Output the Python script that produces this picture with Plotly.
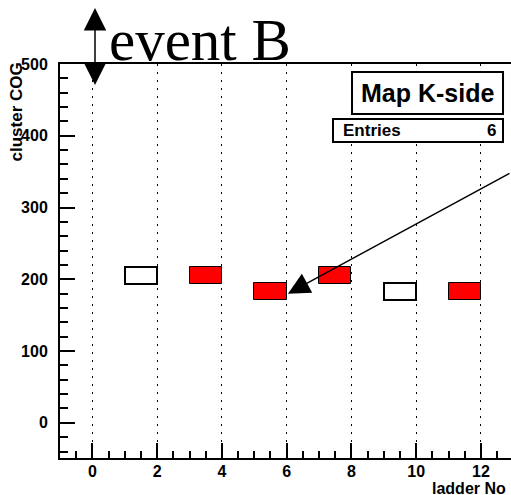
import plotly.graph_objects as go

# ---- data ----
ladder = [1.5, 3.5, 5.5, 7.5, 9.5, 11.5]          # ladder number (bin centres)
cog = [205.5, 205.5, 183.0, 205.5, 183.0, 183.0]  # cluster COG (bin centres)
filled = [False, True, True, True, False, True]   # red filled cell or open cell
bin_h = 23.0
x_ticks = [0, 2, 4, 6, 8, 10, 12]
y_ticks = [0, 100, 200, 300, 400, 500]
entries = len(ladder)

FONT = "Liberation Sans"

fig = go.Figure()
fig.add_trace(go.Bar(
    x=ladder,
    y=[bin_h] * len(ladder),
    base=[c - bin_h / 2 for c in cog],
    width=1.0,
    marker=dict(
        color=["#ff0000" if f else "rgba(255,255,255,0)" for f in filled],
        line=dict(color="black", width=[1 if f else 2 for f in filled]),
    ),
    hoverinfo="skip",
))

fig.update_layout(
    width=511, height=495, autosize=False,
    margin=dict(l=60, r=0, t=64, b=37),
    paper_bgcolor="white", plot_bgcolor="white",
    showlegend=False, bargap=0,
)

fig.update_xaxes(
    range=[-1, 12.93], tickmode="array", tickvals=x_ticks,
    ticks="inside", ticklen=15, tickwidth=1.5, tickcolor="black",
    minor=dict(dtick=0.5, tick0=0, ticks="inside", ticklen=7, tickwidth=1.5, tickcolor="black"),
    showline=True, linecolor="black", linewidth=2, mirror=True,
    showgrid=True, gridcolor="black", gridwidth=1, griddash="2px,6px",
    zeroline=False, ticklabelstandoff=-2,
    tickfont=dict(family=FONT, size=16, color="black", weight="bold"),
)
fig.update_yaxes(
    range=[-49, 500], tickmode="array", tickvals=y_ticks,
    ticks="inside", ticklen=15, tickwidth=1.5, tickcolor="black",
    minor=dict(dtick=20, tick0=0, ticks="inside", ticklen=8, tickwidth=1.5, tickcolor="black"),
    showline=True, linecolor="black", linewidth=2, mirror=False,
    showgrid=False, zeroline=False, ticklabelstandoff=7,
    tickfont=dict(family=FONT, size=16, color="black", weight="bold"),
)

# stats / title boxes
fig.add_shape(type="rect", xref="paper", yref="paper",
              x0=0.6475, x1=0.9823, y0=(458 - 114) / 394, y1=(458 - 72) / 394,
              line=dict(color="black", width=2), fillcolor="white", layer="above")
fig.add_shape(type="rect", xref="paper", yref="paper",
              x0=(333 - 60) / 451, x1=(503 - 60) / 451, y0=(458 - 142) / 394, y1=(458 - 119) / 394,
              line=dict(color="black", width=2), fillcolor="white", layer="above")

annotations = [
    dict(text="Map K-side", xref="paper", yref="paper",
         x=(427.5 - 60) / 451, y=(458 - 93) / 394, xanchor="center", yanchor="middle",
         showarrow=False, font=dict(family=FONT, size=25, color="black", weight="bold")),
    dict(text="Entries", xref="paper", yref="paper",
         x=(341 - 60) / 451, y=(458 - 130.5) / 394, xanchor="left", yanchor="middle",
         showarrow=False, font=dict(family=FONT, size=17, color="black", weight="bold")),
    dict(text=str(entries), xref="paper", yref="paper",
         x=(498 - 60) / 451, y=(458 - 130.5) / 394, xanchor="right", yanchor="middle",
         showarrow=False, font=dict(family=FONT, size=17, color="black", weight="bold")),
    dict(text="ladder No", xref="paper", yref="paper",
         x=(507 - 60) / 451, y=(458 - 488) / 394, xanchor="right", yanchor="middle",
         height=14, borderpad=0, valign="middle",
         showarrow=False, font=dict(family=FONT, size=16, color="black", weight="bold")),
    dict(text="cluster COG", xref="paper", yref="paper", textangle=-90,
         x=(16 - 60) / 451, y=(458 - 61) / 394, xanchor="center", yanchor="top",
         showarrow=False, font=dict(family=FONT, size=17, color="black", weight="bold")),
    dict(text="event B", xref="paper", yref="paper",
         x=(107 - 60) / 451, y=(458 - 40) / 394, xanchor="left", yanchor="middle",
         showarrow=False, font=dict(family="Liberation Serif", size=59, color="black")),
    # long pointer arrow
    dict(text=" ", xref="x", yref="y", x=6.04, y=180,
         ax=232, ay=-121, showarrow=True, arrowhead=2, arrowsize=2.9,
         arrowwidth=1.5, arrowcolor="black", font=dict(size=1)),
    # vertical double arrow
    dict(text=" ", xref="paper", yref="paper", x=(95 - 60) / 451, y=(458 - 85) / 394,
         ax=0, ay=-79, showarrow=True, arrowhead=2, arrowsize=3.0,
         arrowside="end+start", startarrowhead=2, startarrowsize=3.0,
         arrowwidth=1.5, arrowcolor="black", font=dict(size=1)),
]
fig.update_layout(annotations=annotations)

fig.write_html(
    "out.html",
    config={"displayModeBar": False},
    post_script="document.body.style.margin='0';document.body.style.overflow='hidden';",
)
